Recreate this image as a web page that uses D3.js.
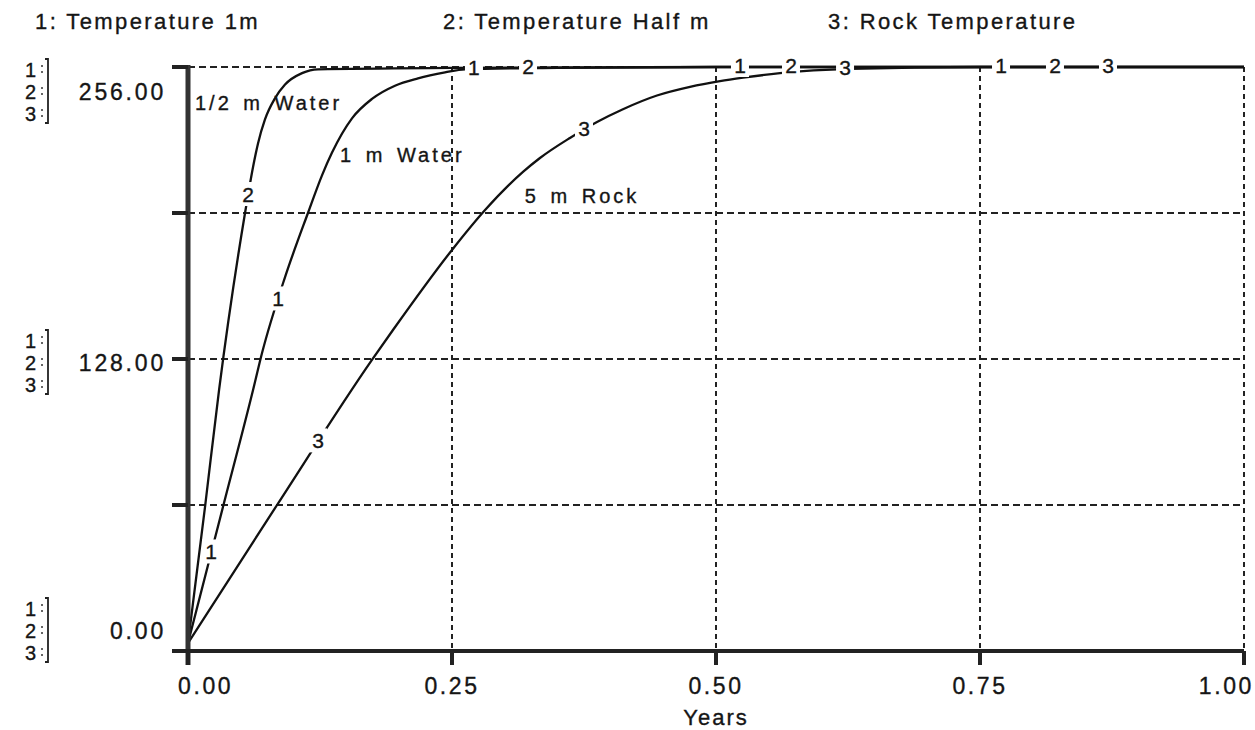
<!DOCTYPE html>
<html>
<head>
<meta charset="utf-8">
<script src="https://cdn.jsdelivr.net/npm/d3@7"></script>
<style>
  body { margin: 0; background: #fff; }
  text { font-family: "Liberation Sans", Arial, Helvetica, sans-serif; fill: #151515; stroke: #151515; stroke-width: 0.35; }
</style>
</head>
<body>
<svg width="1255" height="730"></svg>
<script>
// series titles (header)
const titles = ["1: Temperature 1m", "2: Temperature Half m", "3: Rock Temperature"];

// Temperature 1m (series 1)
const t1 = [0, 0.0331, 0.0616, 0.0701, 0.0919, 0.1136, 0.1269, 0.1364, 0.1553, 0.1742, 0.196, 0.2178, 0.2434, 0.2623, 0.35, 0.5, 0.75, 1];
const v1 = [3.5, 63.1, 114.4, 130.6, 163.9, 192.0, 208.5, 218.5, 233.5, 242.0, 247.8, 251.0, 253.6, 255.0, 255.6, 256, 256, 256];

// Temperature Half m (series 2)
const t2 = [0, 0.0161, 0.0294, 0.054, 0.0616, 0.0663, 0.0729, 0.0824, 0.0919, 0.108, 0.1231, 0.25, 0.5, 1];
const v2 = [3.5, 63.1, 114.4, 192.0, 212.2, 222.5, 233.0, 242.3, 248.3, 253.3, 255.0, 255.6, 256, 256];

// Rock Temperature (series 3)
const t3 = [0, 0.0843, 0.1742, 0.1941, 0.25, 0.2813, 0.3172, 0.3333, 0.3617, 0.3873, 0.4119, 0.4441, 0.4754, 0.5038, 0.5256, 0.5606, 0.6269, 0.75, 1];
const v3 = [3.5, 64.0, 127.6, 140.7, 175.8, 193.3, 210.0, 216.1, 224.9, 231.9, 237.5, 243.5, 247.3, 249.8, 251.3, 253.3, 255.2, 256, 256];

// where the series numbers sit along each curve (years)
const marks1 = [0.0218, 0.0852, 0.2708, 0.5227, 0.7699];
const marks2 = [0.0568, 0.3220, 0.5710, 0.8210];
const marks3 = [0.1231, 0.3750, 0.6222, 0.8712];

// curve annotations
const notes = [
  { text: "1/2 m Water", t: 0.0066, v: 237 },
  { text: "1 m Water", t: 0.144, v: 214.5 },
  { text: "5 m Rock", t: 0.319, v: 196.5 }
];

const yTicks = [0, 64, 128, 192, 256];
const yLabels = [0, 128, 256];
const xTicks = [0, 0.25, 0.5, 0.75, 1];

const svg = d3.select("svg");
const x = d3.scaleLinear().domain([0, 1]).range([188, 1244]);
const y = d3.scaleLinear().domain([0, 256]).range([651, 67]);

/* header */
svg.selectAll(".title")
  .data(titles)
  .enter().append("text")
  .attr("class", "title")
  .attr("x", (d, i) => [35, 443, 828][i])
  .attr("y", 29)
  .attr("font-size", 22)
  .attr("letter-spacing", 2.4)
  .text(d => d);

/* grid */
svg.selectAll(".hgrid")
  .data(yTicks.filter(d => d > 0))
  .enter().append("line")
  .attr("x1", x(0)).attr("x2", x(1))
  .attr("y1", d => y(d)).attr("y2", d => y(d))
  .attr("stroke", "#222").attr("stroke-width", 1.8)
  .attr("stroke-dasharray", "7,4");

svg.selectAll(".vgrid")
  .data(xTicks.filter(d => d > 0))
  .enter().append("line")
  .attr("x1", d => x(d)).attr("x2", d => x(d))
  .attr("y1", y(256)).attr("y2", y(0))
  .attr("stroke", "#222").attr("stroke-width", 2)
  .attr("stroke-dasharray", "5,4");

/* curves */
const line = d3.line()
  .x(d => x(d[0]))
  .y(d => y(d[1]))
  .curve(d3.curveMonotoneX);

const series = [
  { id: "1", t: t1, v: v1, marks: marks1 },
  { id: "2", t: t2, v: v2, marks: marks2 },
  { id: "3", t: t3, v: v3, marks: marks3 }
];

series.forEach(s => {
  svg.append("path")
    .attr("d", line(d3.zip(s.t, s.v)))
    .attr("fill", "none")
    .attr("stroke", "#111")
    .attr("stroke-width", 2.3);
});

// numbers on the curves, with a gap cut in the line
const interp = (s, t) => {
  const i = d3.bisectRight(s.t, t);
  const a = i - 1, b = Math.min(i, s.t.length - 1);
  if (a === b) return s.v[a];
  const k = (t - s.t[a]) / (s.t[b] - s.t[a]);
  return s.v[a] + k * (s.v[b] - s.v[a]);
};

series.forEach(s => {
  s.marks.forEach(t => {
    const px = x(t), py = y(interp(s, t)) - 2;
    svg.append("rect")
      .attr("x", px - 9).attr("y", py - 12)
      .attr("width", 18).attr("height", 24)
      .attr("fill", "#fff");
    svg.append("text")
      .attr("x", px).attr("y", py + 8)
      .attr("text-anchor", "middle")
      .attr("font-size", 21)
      .text(s.id);
  });
});

svg.selectAll(".note")
  .data(notes)
  .enter().append("text")
  .attr("x", d => x(d.t))
  .attr("y", d => y(d.v))
  .attr("font-size", 20)
  .attr("letter-spacing", 3)
  .attr("word-spacing", 3)
  .text(d => d.text);

/* axes */
svg.append("line")
  .attr("x1", x(0)).attr("x2", x(0))
  .attr("y1", y(256) - 2).attr("y2", y(0) + 14)
  .attr("stroke", "#333").attr("stroke-width", 5);

svg.append("line")
  .attr("x1", x(0) - 16).attr("x2", x(1))
  .attr("y1", y(0)).attr("y2", y(0))
  .attr("stroke", "#222").attr("stroke-width", 4);

svg.selectAll(".ytick")
  .data(yTicks)
  .enter().append("line")
  .attr("x1", x(0) - 16).attr("x2", x(0))
  .attr("y1", d => y(d)).attr("y2", d => y(d))
  .attr("stroke", "#222").attr("stroke-width", 4);

svg.selectAll(".xtick")
  .data(xTicks)
  .enter().append("line")
  .attr("x1", d => x(d)).attr("x2", d => x(d))
  .attr("y1", y(0)).attr("y2", y(0) + 14)
  .attr("stroke", "#222").attr("stroke-width", 4);

/* y labels with 1:/2:/3: brackets */
const groupY = d => d === 256 ? y(d) + 24 : d === 0 ? y(d) - 21 : y(d) + 3;

yLabels.forEach(v => {
  const cy = groupY(v);
  svg.append("text")
    .attr("x", 166).attr("y", cy + 8.5)
    .attr("text-anchor", "end")
    .attr("font-size", 23)
    .attr("letter-spacing", 2.8)
    .text(d3.format(".2f")(v));

  ["1", "2", "3"].forEach((n, i) => {
    const ty = cy + (i - 1) * 22;
    svg.append("text")
      .attr("x", 25).attr("y", ty + 7.5)
      .attr("font-size", 20)
      .text(n);
    [-3, 3].forEach(dy => {
      svg.append("circle")
        .attr("cx", 42).attr("cy", ty + dy)
        .attr("r", 1).attr("fill", "#333");
    });
  });
  svg.append("path")
    .attr("d", `M45,${cy - 32}H48V${cy + 32}H45`)
    .attr("fill", "none")
    .attr("stroke", "#222").attr("stroke-width", 1.8);
});

/* x labels */
svg.selectAll(".xlabel")
  .data(xTicks)
  .enter().append("text")
  .attr("x", (d, i) => i === 0 ? x(d) - 10 : i === xTicks.length - 1 ? x(d) + 10 : x(d))
  .attr("y", 694)
  .attr("text-anchor", (d, i) => i === 0 ? "start" : i === xTicks.length - 1 ? "end" : "middle")
  .attr("font-size", 23)
  .attr("letter-spacing", 2.6)
  .text(d => d3.format(".2f")(d));

svg.append("text")
  .attr("x", x(0.5)).attr("y", 725)
  .attr("text-anchor", "middle")
  .attr("font-size", 22)
  .attr("letter-spacing", 2)
  .text("Years");
</script>
</body>
</html>
